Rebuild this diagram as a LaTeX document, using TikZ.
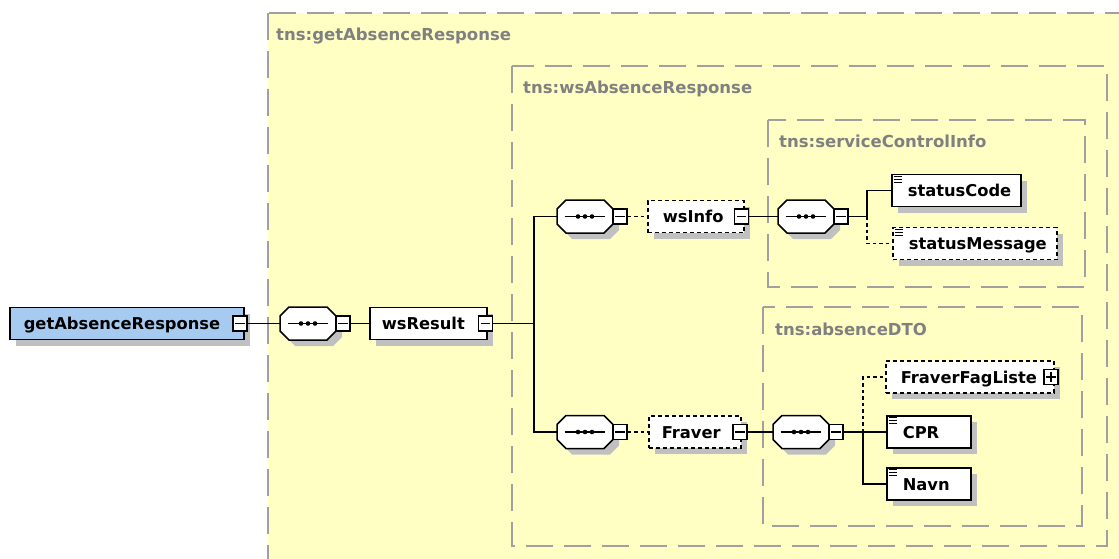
\documentclass[tikz,border=0pt]{standalone}
\usepackage{fontspec}
\setmainfont{DejaVu Sans}
\usetikzlibrary{shadows}
\definecolor{bgyellow}{RGB}{255,255,196}
\definecolor{grpgray}{RGB}{160,160,160}
\definecolor{lblgray}{RGB}{128,128,128}
\definecolor{shadowc}{RGB}{192,192,192}
\definecolor{rootblue}{RGB}{166,202,240}
\newcommand\minusbox[3]{%
  \node[sqbox] (#1) at (#2,#3) {};
  \draw[signline] ([xshift=3pt]#1.west) -- ([xshift=-3pt]#1.east);}
\newcommand\plusbox[3]{%
  \node[sqbox] (#1) at (#2,#3) {};
  \draw[signline] ([xshift=3pt]#1.west) -- ([xshift=-3pt]#1.east);
  \draw[signline] ([yshift=-3pt]#1.north) -- ([yshift=3pt]#1.south);}
\newcommand\seqgroup[3]{%
  \fill[shadowc,shift={(#2+6,#3+6)}] (-19,-16.5) -- (19,-16.5) -- (28,-7.5) -- (28,7.5) -- (19,16.5) -- (-19,16.5) -- (-28,7.5) -- (-28,-7.5) -- cycle;
  \filldraw[fill=white,draw=black,line width=1.5pt,shift={(#2,#3)}] (-19,-16.5) -- (19,-16.5) -- (28,-7.5) -- (28,7.5) -- (19,16.5) -- (-19,16.5) -- (-28,7.5) -- (-28,-7.5) -- cycle;
  \node[seqnode] (#1) at (#2,#3) {};
  \draw[line width=1.4pt] ([xshift=8pt]#1.west) -- ([xshift=-8pt]#1.east);
  \fill (#1.center) circle (2.3pt) ([xshift=-7pt]#1.center) circle (2.3pt) ([xshift=7pt]#1.center) circle (2.3pt);
  \minusbox{#1-m}{#2+35}{#3}}
\newcommand\simpleicon[1]{%
  \draw[line width=0.9pt] ([xshift=2.5pt,yshift=-2.5pt]#1.north west) -- +(8.5pt,0pt)
    ([xshift=2.5pt,yshift=-5.5pt]#1.north west) -- +(8.5pt,0pt)
    ([xshift=2.5pt,yshift=-8.5pt]#1.north west) -- +(8.5pt,0pt);}
\begin{document}
\begin{tikzpicture}[x=1pt,y=-1pt,
  grp/.style={draw=grpgray, line width=1.8pt, dash pattern=on 27pt off 11pt},
  grplabel/.style={anchor=base west, text=lblgray, font=\fontsize{16.5}{19}\selectfont\bfseries, inner sep=0pt},
  elem/.style={draw=black, line width=1.6pt, fill=white, anchor=west, minimum height=32pt,
    inner ysep=0pt, text height=12pt, text depth=0pt, font=\fontsize{16.3}{19}\selectfont\bfseries,
    drop shadow={shadow xshift=6pt, shadow yshift=-6pt, fill=shadowc, opacity=1}},
  optelem/.style={elem, dash pattern=on 4pt off 3pt},
  seqnode/.style={draw=none, minimum width=56pt, minimum height=33pt, inner sep=0pt},
  sqbox/.style={draw=black, fill=white, line width=1.2pt, minimum width=14pt, minimum height=15pt, inner sep=0pt},
  signline/.style={line width=1.2pt},
  conn/.style={draw=black, line width=1.5pt},
  optconn/.style={conn, dash pattern=on 3.5pt off 3pt}]
\clip (0,0) rectangle (1119,559);
\useasboundingbox (0,0) rectangle (1119,559);
\fill[white] (0,0) rectangle (1119,559);
% group boxes
\draw[grp, fill=bgyellow] (268,13) rectangle (1140,580);
\draw[grp] (512,66) rectangle (1107,546);
\draw[grp] (768,120) rectangle (1085,287);
\draw[grp] (763,307) rectangle (1082,526);
\node[grplabel] (lbl1) at (276,41) {tns:getAbsenceResponse};
\node[grplabel] (lbl2) at (523,94) {tns:wsAbsenceResponse};
\node[grplabel] (lbl3) at (779,148) {tns:serviceControlInfo};
\node[grplabel] (lbl4) at (775,335) {tns:absenceDTO};
% elements
\node[elem, fill=rootblue, minimum width=234pt, inner xsep=14pt] (root) at (9,323.5) {\makebox[206pt][l]{getAbsenceResponse}};
\minusbox{root-m}{240}{323.5}
\seqgroup{seq1}{308}{323.5}
\node[elem, minimum width=117pt, inner xsep=12pt] (wsResult) at (369,323.5) {\makebox[93pt][l]{wsResult}};
\minusbox{wsResult-m}{485.5}{323.5}
\seqgroup{seq2}{585}{216.5}
\node[optelem, minimum width=96pt, inner xsep=15pt] (wsInfo) at (647,216.5) {\makebox[66pt][l]{wsInfo}};
\minusbox{wsInfo-m}{741.5}{216.5}
\seqgroup{seq3}{806}{216.5}
\node[elem, minimum width=129pt, inner xsep=16pt] (statusCode) at (891,190.5) {\makebox[97pt][l]{statusCode}};
\simpleicon{statusCode}
\node[optelem, minimum width=164pt, inner xsep=16pt] (statusMessage) at (892,243.5) {\makebox[132pt][l]{statusMessage}};
\simpleicon{statusMessage}
\seqgroup{seq4}{585}{432}
\node[optelem, minimum width=92pt, inner xsep=13pt] (Fraver) at (648,432) {\makebox[66pt][l]{Fraver}};
\minusbox{Fraver-m}{740}{432}
\seqgroup{seq5}{801}{432}
\node[optelem, minimum width=168pt, inner xsep=15pt] (FraverFagListe) at (885,377) {\makebox[138pt][l]{FraverFagListe}};
\plusbox{FraverFagListe-p}{1051}{377}
\node[elem, minimum width=84pt, inner xsep=16pt] (CPR) at (886,432) {\makebox[52pt][l]{CPR}};
\simpleicon{CPR}
\node[elem, minimum width=84pt, inner xsep=16pt] (Navn) at (886,484) {\makebox[52pt][l]{Navn}};
\simpleicon{Navn}
% connectors
\coordinate (j1) at (534,323.5);
\coordinate (j2) at (867,216.5);
\coordinate (j3) at (863,432);
\draw[conn] (root-m.east) -- (seq1.west);
\draw[conn] (seq1-m.east) -- (wsResult.west);
\draw[conn] (wsResult-m.east) -- (j1);
\draw[conn] (seq2.west) -| (j1) |- (seq4.west);
\draw[optconn] (seq2-m.east) -- (wsInfo.west);
\draw[conn] (wsInfo-m.east) -- (seq3.west);
\draw[conn] (seq3-m.east) -- (j2) |- (statusCode.west);
\draw[optconn] (j2) |- (statusMessage.west);
\draw[optconn] (seq4-m.east) -- (Fraver.west);
\draw[conn] (Fraver-m.east) -- (seq5.west);
\draw[conn] (seq5-m.east) -- (CPR.west);
\draw[conn] (j3) |- (Navn.west);
\draw[optconn] (j3) |- (FraverFagListe.west);
\end{tikzpicture}
\end{document}
